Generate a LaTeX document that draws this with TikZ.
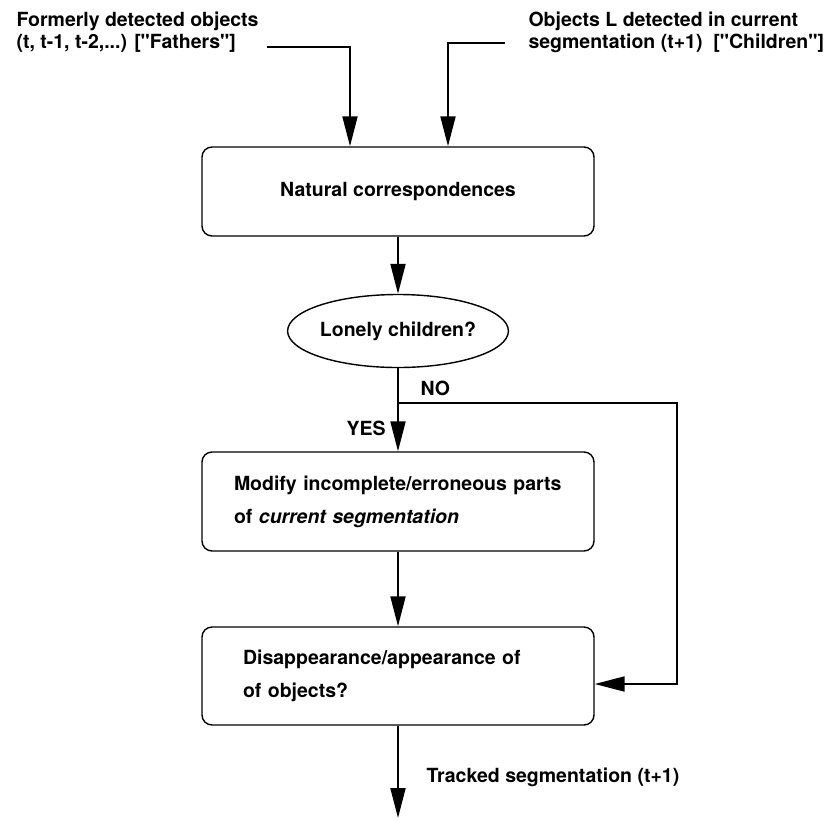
\documentclass[tikz,border=0pt]{standalone}
\usepackage{fontspec}
\setmainfont{TeX Gyre Heros}[Ligatures=TeXOff]
\usetikzlibrary{arrows.meta,shapes.geometric}
\begin{document}
\begin{tikzpicture}[x=1pt,y=-1pt,
  lbl/.style={font=\fontsize{19.5}{22}\selectfont\bfseries},
  box/.style={draw, line width=1.4pt, rounded corners=10pt, minimum width=392pt, align=left, font=\fontsize{19.5}{33}\selectfont\bfseries},
  arr/.style={line width=2pt, -{Triangle[length=30pt,width=15pt]}}]
\useasboundingbox (0,0) rectangle (830,820);
\node[lbl, anchor=west, align=left] (fathers) at (13,32) {Formerly detected objects\\(t, t-1, t-2,...) ["Fathers"]};
\node[lbl, anchor=west, align=left] (children) at (525,32) {Objects L detected in current\\segmentation (t+1)~~["Children"]};
\node[box, minimum height=89pt] (nc) at (398,191.5) {Natural correspondences};
\node[draw, ellipse, line width=1.4pt, minimum width=213pt, minimum height=73pt, inner sep=0pt, lbl] (lc) at (398,331) {Lonely children?};
\node[box, minimum height=99pt, text width=328pt, inner xsep=32pt] (mod) at (398,501.5) {Modify incomplete/erroneous parts\\of {\itshape current segmentation}};
\node[box, minimum height=98pt, text width=310pt, inner xsep=41pt] (dis) at (398,676) {Disappearance/appearance of\\of objects?};
\coordinate (f0) at (267,47);
\coordinate (c0) at (505,43);
\coordinate (split) at (398,403);
\coordinate (rc) at (677,403);
\coordinate (out) at (398,818);
\draw[arr] (f0) -| ([xshift=-48pt]nc.north);
\draw[arr] (c0) -| ([xshift=50pt]nc.north);
\draw[arr] (nc) -- (lc);
\draw[arr] (lc) -- (mod);
\draw[arr] (split) -- (rc) |- ([yshift=-8pt]dis.east);
\draw[arr] (mod) -- (dis);
\draw[arr] (dis) -- (out);
\node[lbl, anchor=west] (no) at (417,388) {NO};
\node[lbl, anchor=west] (yes) at (343,428) {YES};
\node[lbl, anchor=west] (tr) at (423,777) {Tracked segmentation (t+1)};
\end{tikzpicture}
\end{document}
